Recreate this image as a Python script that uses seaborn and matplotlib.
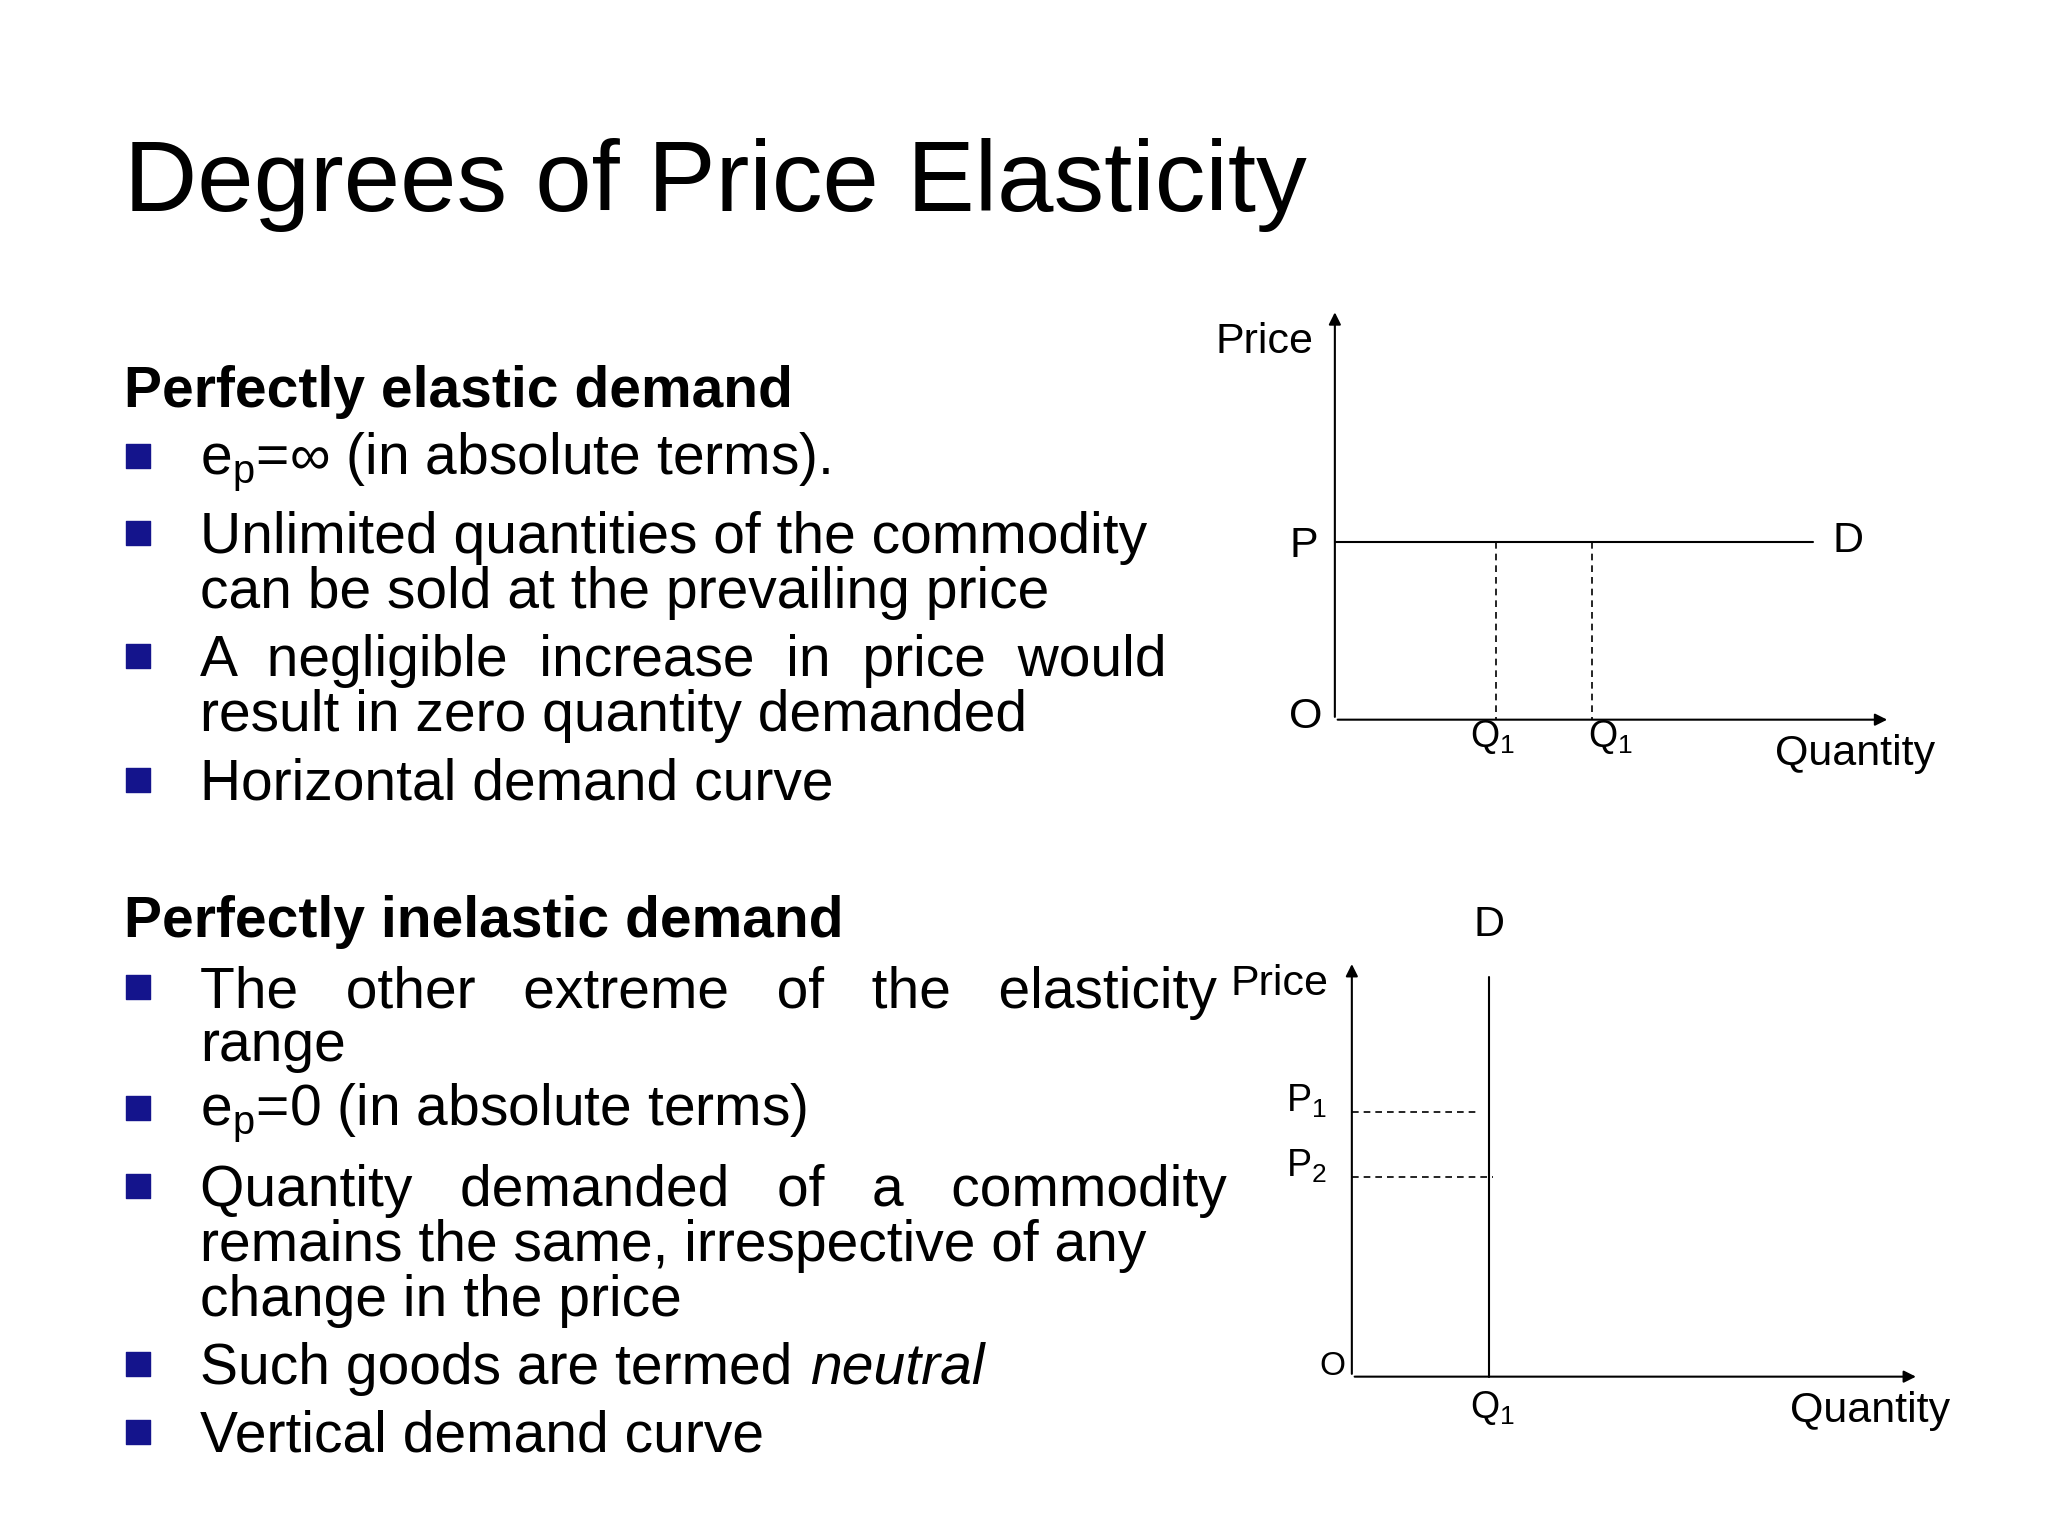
import matplotlib
matplotlib.use("Agg")
from matplotlib import pyplot as plt
import seaborn as sns
import pandas as pd

sns.set_theme(style="white")
plt.rcParams['font.family'] = ['Liberation Sans', 'DejaVu Sans']
plt.rcParams['text.color'] = 'black'
plt.rcParams['mathtext.fontset'] = 'custom'
plt.rcParams['mathtext.rm'] = 'Liberation Sans'

# slide text (layout units: 1568 x 1176 canvas)
title = "Degrees of Price Elasticity"
head_elastic = "Perfectly elastic demand"
lines_elastic = [(353, True, r"e$_\mathregular{p}$=∞ (in absolute terms)."),
                 (412, True, "Unlimited quantities of the commodity"),
                 (454, False, "can be sold at the prevailing price"),
                 (506, True, "A  negligible  increase  in  price  would"),
                 (548, False, "result in zero quantity demanded"),
                 (601, True, "Horizontal demand curve")]
head_inelastic = "Perfectly inelastic demand"
lines_inelastic = [(760, True, "The   other   extreme   of   the   elasticity"),
                   (801, False, "range"),
                   (852, True, r"e$_\mathregular{p}$=0 (in absolute terms)"),
                   (912, True, "Quantity   demanded   of   a   commodity"),
                   (954, False, "remains the same, irrespective of any"),
                   (996, False, "change in the price"),
                   (1048, True, "Such goods are termed "),
                   (1100, True, "Vertical demand curve")]

# diagram 1: perfectly elastic
d1_curve = pd.DataFrame({"x": [1022, 1388], "y": [415, 415]})
d1_q = [1145, 1219]
# diagram 2: perfectly inelastic
d2_curve = pd.DataFrame({"x": [1140, 1140], "y": [1054, 748]})
d2_p = [(851, 1133), (901, 1143)]

fig = plt.figure(figsize=(20.48, 15.36), dpi=100)
ax = fig.add_axes([0, 0, 1, 1])
ax.set_xlim(0, 1568)
ax.set_ylim(1176, 0)
ax.axis("off")

ax.text(95, 142, title, fontsize=73, va="center")

bullet_c = "#14148c"
fs = 41
for head, hy, lines in [(head_elastic, 300, lines_elastic),
                        (head_inelastic, 706, lines_inelastic)]:
    ax.text(95, hy, head, fontsize=fs, fontweight="bold", va="center")
    for y, bul, txt in lines:
        if bul:
            ax.scatter(106, y - 4, marker="s", s=300, color=bullet_c)
        ax.text(153, y, txt, fontsize=fs, va="center")
ax.text(620, 1048, "neutral", fontsize=fs, style="italic", va="center")

ax_kw = dict(arrowprops=dict(arrowstyle="-|>", color="black", lw=1.5,
                             mutation_scale=18))
lab = dict(fontsize=31, va="center", ha="center")
sub = dict(fontsize=27, va="center", ha="center")

# diagram 1
ax.annotate("", xy=(1022, 237), xytext=(1022, 551), **ax_kw)
ax.annotate("", xy=(1447, 551), xytext=(1022, 551), **ax_kw)
sns.lineplot(data=d1_curve, x="x", y="y", ax=ax, color="black", lw=1.5,
             sort=False, estimator=None)
for q in d1_q:
    ax.plot([q, q], [415, 551], color="black", lw=1.2, ls=(0, (4, 3)))
    ax.text(q - 2 if q < 1200 else q + 14, 564, r"Q$_\mathregular{1}$", **sub)
ax.text(968, 262, "Price", **lab)
ax.text(998, 418, "P", **lab)
ax.text(1415, 414, "D", **lab)
ax.text(1000, 549, "O", **lab)
ax.text(1420, 577, "Quantity", **lab)

# diagram 2
ax.annotate("", xy=(1035, 736), xytext=(1035, 1054), **ax_kw)
ax.annotate("", xy=(1469, 1054), xytext=(1035, 1054), **ax_kw)
sns.lineplot(data=d2_curve, x="x", y="y", ax=ax, color="black", lw=1.5,
             sort=False, estimator=None)
for (py, px), name in zip(d2_p, ["P$_\\mathregular{1}$", "P$_\\mathregular{2}$"]):
    ax.plot([1035, px], [py, py], color="black", lw=1.2, ls=(0, (4, 3)))
    ax.text(1000, py - 8, name, **sub)
ax.text(1140, 708, "D", **lab)
ax.text(980, 753, "Price", **lab)
ax.text(1020, 1046, "O", fontsize=24, va="center", ha="center")
ax.text(1143, 1078, r"Q$_\mathregular{1}$", **sub)
ax.text(1432, 1080, "Quantity", **lab)

fig.savefig("out.png", dpi=100, facecolor="white")
